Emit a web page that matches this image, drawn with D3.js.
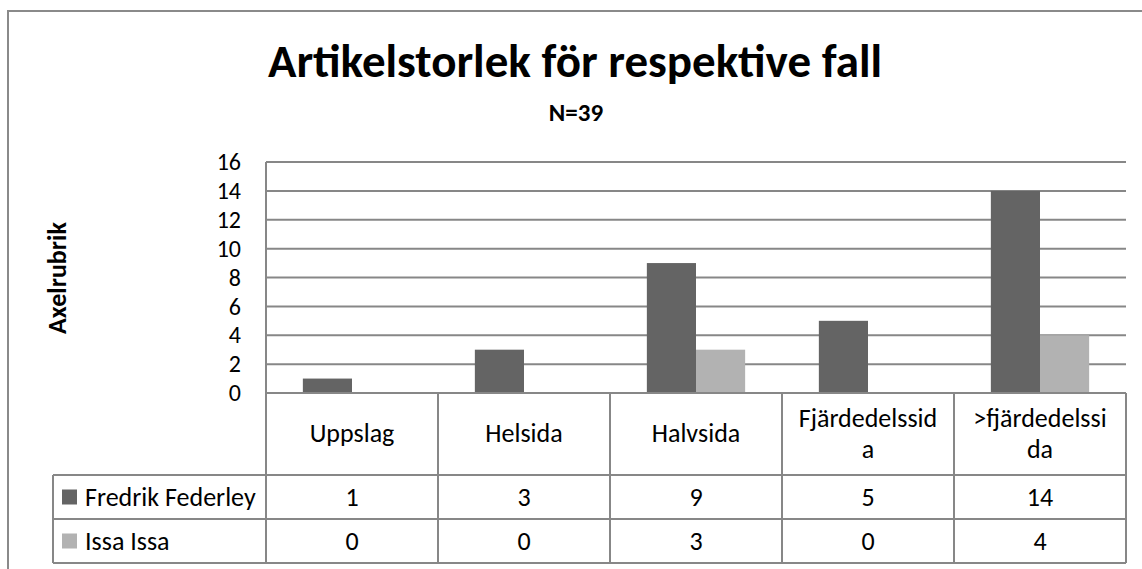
<!DOCTYPE html>
<html>
<head>
<meta charset="utf-8">
<script src="https://cdn.jsdelivr.net/npm/d3@7"></script>
<style>
  html, body { margin: 0; padding: 0; background: #fff; }
  svg { display: block; font-family: Carlito, Calibri, Lato, sans-serif; }
</style>
</head>
<body>
<svg id="chart" width="1142" height="569"></svg>
<script>
const categories = ["Uppslag", "Helsida", "Halvsida", "Fjärdedelssida", ">fjärdedelssida"];
const categoryLines = [["Uppslag"], ["Helsida"], ["Halvsida"], ["Fjärdedelssid", "a"], [">fjärdedelssi", "da"]];
const seriesNames = ["Fredrik Federley", "Issa Issa"];
const fredrikValues = [1, 3, 9, 5, 14];
const issaValues = [0, 0, 3, 0, 4];
const yTicks = [0, 2, 4, 6, 8, 10, 12, 14, 16];
const titleText = "Artikelstorlek för respektive fall";
const subtitleText = "N=39";
const yAxisTitle = "Axelrubrik";

const series = [
  { name: seriesNames[0], values: fredrikValues, color: "#646464" },
  { name: seriesNames[1], values: issaValues, color: "#b2b2b2" }
];

const svg = d3.select("#chart");
const W = 1142, H = 569;
const plot = { left: 266, right: 1126, top: 162, bottom: 393 };
const tableLeft = 53;
const rowY = [393, 475, 519, 563];
const gridColor = "#878787";
const font = "Carlito, Calibri, Lato, sans-serif";
const bodySize = 26;

// outer frame
svg.append("rect").attr("x", 8).attr("y", 11).attr("width", W + 20).attr("height", H + 20)
  .attr("fill", "none").attr("stroke", "#8a8a8a").attr("stroke-width", 2);

// title
svg.append("text").attr("x", 575).attr("y", 77).attr("text-anchor", "middle")
  .attr("font-weight", "bold").attr("font-size", 47).attr("fill", "#000").text(titleText);
svg.append("text").attr("x", 576).attr("y", 121).attr("text-anchor", "middle")
  .attr("font-weight", "bold").attr("font-size", 25).attr("fill", "#000").text(subtitleText);

// scales
const x0 = d3.scaleBand().domain(categories).range([plot.left, plot.right]).padding(0);
const groupW = x0.bandwidth() / 3.5 * 2;
const x1 = d3.scaleBand().domain(seriesNames).range([0, groupW]).padding(0);
const y = d3.scaleLinear().domain([0, 16]).range([plot.bottom, plot.top]);

// gridlines
svg.append("g").selectAll("line").data(yTicks.filter(t => t > 0)).join("line")
  .attr("x1", plot.left).attr("x2", plot.right)
  .attr("y1", d => y(d)).attr("y2", d => y(d))
  .attr("stroke", gridColor).attr("stroke-width", 2);

// y axis
const yAxis = d3.axisLeft(y).tickValues(yTicks).tickSize(0).tickPadding(25);
const gy = svg.append("g").attr("transform", `translate(${plot.left},0)`).call(yAxis);
gy.select(".domain").remove();
gy.selectAll("text").attr("font-family", font).attr("font-size", 24).attr("fill", "#000");

// y axis title
svg.append("text").attr("transform", `translate(66,278) rotate(-90)`).attr("text-anchor", "middle")
  .attr("font-weight", "bold").attr("font-size", 26).attr("fill", "#000").text(yAxisTitle);

// bars
const gBars = svg.append("g");
series.forEach(s => {
  gBars.selectAll(null).data(categories).join("rect")
    .attr("x", (c) => x0(c) + (x0.bandwidth() - groupW) / 2 + x1(s.name))
    .attr("y", (c, i) => y(s.values[i]))
    .attr("width", x1.bandwidth())
    .attr("height", (c, i) => y(0) - y(s.values[i]))
    .attr("fill", s.color);
});

// table lines
const gT = svg.append("g").attr("stroke", gridColor).attr("stroke-width", 2);
gT.append("line").attr("x1", plot.left).attr("x2", plot.right).attr("y1", y(0)).attr("y2", y(0));
gT.append("line").attr("x1", plot.left).attr("x2", plot.left).attr("y1", plot.top).attr("y2", rowY[3]);
categories.forEach(c => {
  gT.append("line").attr("x1", x0(c) + x0.bandwidth()).attr("x2", x0(c) + x0.bandwidth())
    .attr("y1", rowY[0]).attr("y2", rowY[3]);
});
[rowY[1], rowY[2], rowY[3]].forEach(ry => {
  gT.append("line").attr("x1", tableLeft).attr("x2", plot.right).attr("y1", ry).attr("y2", ry);
});
gT.append("line").attr("x1", tableLeft).attr("x2", tableLeft).attr("y1", rowY[1]).attr("y2", rowY[3]);

// header labels
const gH = svg.append("g").attr("font-size", bodySize).attr("fill", "#000").attr("text-anchor", "middle");
categories.forEach((c, i) => {
  const lines = categoryLines[i];
  const cx = x0(c) + x0.bandwidth() / 2;
  const lh = 31;
  const mid = (rowY[0] + rowY[1]) / 2;
  lines.forEach((ln, j) => {
    gH.append("text").attr("x", cx)
      .attr("y", mid + 8 + (j - (lines.length - 1) / 2) * lh)
      .text(ln);
  });
});

// data rows
series.forEach((s, si) => {
  const top = rowY[si + 1], bot = rowY[si + 2];
  const mid = (top + bot) / 2;
  svg.append("rect").attr("x", 62).attr("y", mid - 7.5).attr("width", 15).attr("height", 15).attr("fill", s.color);
  svg.append("text").attr("x", 85).attr("y", mid + 9).attr("font-size", bodySize).attr("fill", "#000").text(s.name);
  categories.forEach((c, i) => {
    svg.append("text").attr("x", x0(c) + x0.bandwidth() / 2).attr("y", mid + 9)
      .attr("text-anchor", "middle").attr("font-size", bodySize).attr("fill", "#000").text(s.values[i]);
  });
});
</script>
</body>
</html>
